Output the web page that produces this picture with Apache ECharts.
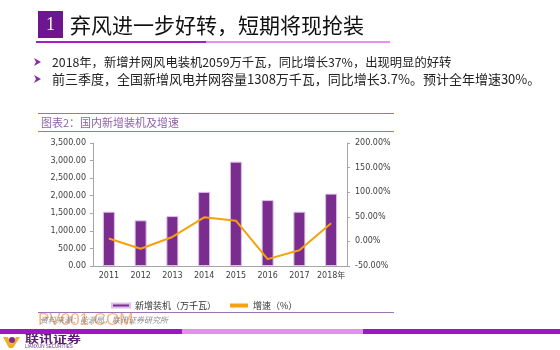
<!DOCTYPE html>
<html>
<head>
<meta charset="utf-8">
<script src="https://cdn.jsdelivr.net/npm/echarts@6/dist/echarts.min.js"></script>
<style>
  html, body { margin: 0; padding: 0; background: #fff; }
  #chart { width: 560px; height: 350px; }
</style>
</head>
<body>
<div id="chart"></div>
<script>
// data
const years = ['2011', '2012', '2013', '2014', '2015', '2016', '2017', '2018年'];
const installed = [1545, 1300, 1420, 2110, 2970, 1875, 1545, 2059];   // 万千瓦
const growth = [6, -15, 9, 49, 42, -36, -18, 37];                     // %
const leftTicks = { min: 0, max: 3500, interval: 500 };
const rightTicks = { min: -50, max: 200, interval: 50 };

const pageTitle = '弃风进一步好转，短期将现抢装';
const bullets = [
  '2018年，新增并网风电装机2059万千瓦，同比增长37%，出现明显的好转',
  '前三季度，全国新增风电并网容量1308万千瓦，同比增长3.7%。预计全年增速30%。'
];
const chartTitle = '图表2：国内新增装机及增速';
const source = '资料来源：能源局，联讯证券研究所';

const purple = '#7a2d8f';
const orange = '#f5a20c';
const cjk = '"Noto Sans CJK SC", sans-serif';

const chart = echarts.init(document.getElementById('chart'));

const graphics = [
  // page heading
  { type: 'rect', shape: { x: 38, y: 11, width: 25, height: 27 },
    style: { fill: '#6e1690' } },
  { type: 'text', style: { text: '1', x: 50.5, y: 25, align: 'center', verticalAlign: 'middle',
    fill: '#fff', font: '18px "Liberation Serif", serif' } },
  { type: 'text', style: { text: pageTitle, x: 70, y: 25, verticalAlign: 'middle',
    fill: '#111', font: '21px ' + cjk } },
  { type: 'rect', shape: { x: 36, y: 41, width: 170, height: 2 }, style: { fill: '#a11fc3' } },
  { type: 'rect', shape: { x: 206, y: 41, width: 184, height: 2 }, style: { fill: '#e98cf5' } },

  // chart frame
  { type: 'rect', shape: { x: 38, y: 113, width: 356, height: 1 }, style: { fill: '#9d74b3' } },
  { type: 'text', style: { text: chartTitle, x: 41, y: 123, verticalAlign: 'middle',
    fill: '#8c64a8', font: '11px ' + cjk } },
  { type: 'rect', shape: { x: 38, y: 131, width: 356, height: 1 }, style: { fill: '#9d74b3' } },
  { type: 'rect', shape: { x: 38, y: 312, width: 356, height: 1 }, style: { fill: '#9d74b3' } },
  { type: 'text', style: { text: 'PV001.COM', x: 38, y: 320, verticalAlign: 'middle',
    fill: 'rgba(244,150,80,0.7)', font: '17px "Liberation Sans", sans-serif' } },
  { type: 'text', style: { text: source, x: 40, y: 320, verticalAlign: 'middle',
    fill: 'rgba(110,110,110,0.8)', font: 'italic 8px ' + cjk } },

  // bottom band
  { type: 'rect', shape: { x: 0, y: 329, width: 182, height: 5 }, style: { fill: '#a015c2' } },
  { type: 'rect', shape: { x: 182, y: 329, width: 181, height: 5 }, style: { fill: '#e68cf3' } },
  { type: 'rect', shape: { x: 363, y: 329, width: 197, height: 5 }, style: { fill: '#a015c2' } },

  // logo
  { type: 'polygon', shape: { points: [[3, 337], [8, 337], [11, 344], [16, 337], [20, 337], [13, 348], [9, 348]] },
    style: { fill: '#f0b020' } },
  { type: 'circle', shape: { cx: 12, cy: 340, r: 3 }, style: { fill: '#7a2d8f' } },
  { type: 'text', x: 25, y: 339.5, scaleX: 1.4, originX: 0, originY: 0,
    style: { text: '联讯证券', x: 0, y: 0, verticalAlign: 'middle',
      fill: '#5c1d74', font: 'bold 10px ' + cjk } },
  { type: 'text', style: { text: 'LIANXUN SECURITIES', x: 25, y: 347, verticalAlign: 'middle',
    fill: '#6a3b80', font: '4.5px "Liberation Sans", sans-serif' } }
];

bullets.forEach(function (t, i) {
  const y = 62 + i * 17;
  graphics.push({ type: 'polygon', shape: { points: [[34, y - 4], [41, y], [34, y + 4], [36, y]] },
    style: { fill: '#8a2aa6' } });
  graphics.push({ type: 'text', style: { text: t, x: 52, y: y, verticalAlign: 'middle',
    fill: '#222', font: (i === 0 ? '12.3px ' : '13px ') + cjk } });
});

chart.setOption({
  animation: false,
  textStyle: { fontFamily: '"DejaVu Sans", sans-serif' },
  graphic: graphics,
  grid: { left: 93, right: 213, top: 143, bottom: 84 },
  legend: {
    left: 106, top: 296,
    itemWidth: 18, itemHeight: 4, itemGap: 14,
    textStyle: { fontSize: 9, color: '#333', fontFamily: cjk },
    data: [
      { name: '新增装机（万千瓦）', icon: 'rect' },
      { name: '增速（%）', icon: 'rect' }
    ]
  },
  xAxis: {
    type: 'category',
    data: years,
    axisLine: { lineStyle: { color: '#a6a6a6' } },
    axisTick: { length: 4, lineStyle: { color: '#a6a6a6' } },
    axisLabel: { interval: 0, fontSize: 8, color: '#404040', margin: 6,
      fontFamily: '"DejaVu Sans", ' + cjk }
  },
  yAxis: [
    {
      type: 'value',
      min: leftTicks.min, max: leftTicks.max, interval: leftTicks.interval,
      splitLine: { show: false },
      axisLine: { show: true, lineStyle: { color: '#a6a6a6' } },
      axisTick: { show: true, length: 3, lineStyle: { color: '#a6a6a6' } },
      axisLabel: {
        fontSize: 8, color: '#404040', margin: 7,
        formatter: function (v) {
          return v.toLocaleString('en-US', { minimumFractionDigits: 2, maximumFractionDigits: 2 });
        }
      }
    },
    {
      type: 'value',
      min: rightTicks.min, max: rightTicks.max, interval: rightTicks.interval,
      splitLine: { show: false },
      axisLine: { show: true, lineStyle: { color: '#a6a6a6' } },
      axisTick: { show: true, length: 3, lineStyle: { color: '#a6a6a6' } },
      axisLabel: {
        fontSize: 8, color: '#404040', margin: 8,
        formatter: function (v) { return v.toFixed(2) + '%'; }
      }
    }
  ],
  series: [
    {
      name: '新增装机（万千瓦）',
      type: 'bar',
      data: installed,
      barWidth: 12,
      itemStyle: { color: purple, borderColor: '#dcbfe6', borderWidth: 1 }
    },
    {
      name: '增速（%）',
      type: 'line',
      yAxisIndex: 1,
      data: growth,
      symbol: 'none',
      lineStyle: { color: orange, width: 2 },
      itemStyle: { color: orange }
    }
  ]
});
</script>
</body>
</html>
